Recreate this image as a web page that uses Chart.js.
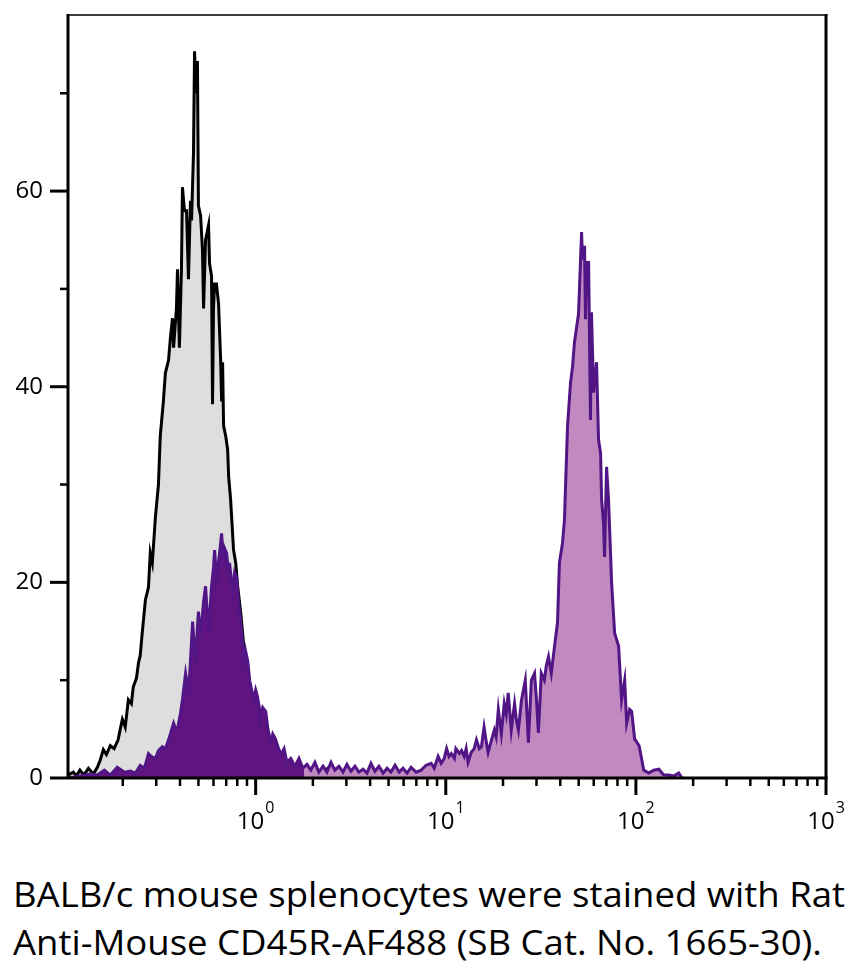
<!DOCTYPE html>
<html>
<head>
<meta charset="utf-8">
<style>
html, body { margin: 0; padding: 0; background: #fff; }
#wrap { position: relative; width: 858px; height: 968px; overflow: hidden; background: #fff; }
#c { position: absolute; left: 0; top: 0; }
.cap { position: absolute; left: 13px; font-family: "Open Sans", sans-serif; font-size: 35px; line-height: 1; white-space: nowrap; color: #000; transform-origin: 0 0; }
</style>
<script src="https://cdn.jsdelivr.net/npm/chart.js@4.4.0/dist/chart.umd.min.js"></script>
</head>
<body>
<div id="wrap">
  <canvas id="c" width="858" height="850"></canvas>
  <div class="cap" id="cap1" style="top:876px"></div>
  <div class="cap" id="cap2" style="top:924px"></div>
</div>
<script>
// ---- data ----
const ctrlIntensity = [0.103,0.110,0.114,0.119,0.125,0.132,0.140,0.147,0.152,0.158,
  0.164,0.172,0.180,0.189,0.194,0.199,0.206,0.214,0.222,0.227,
  0.236,0.242,0.247,0.253,0.263,0.273,0.279,0.286,0.297,0.308,
  0.315,0.327,0.335,0.348,0.356,0.365,0.370,0.383,0.388,0.397,
  0.407,0.412,0.422,0.433,0.443,0.454,0.460,0.471,0.477,0.486,
  0.494,0.500,0.513,0.525,0.532,0.545,0.565,0.572,0.586,0.593,
  0.600,0.608,0.622,0.638,0.654,0.662,0.670,0.678,0.695,0.712,
  0.721,0.738,0.765,0.785,0.804,0.833,0.854,0.885,0.918,0.941,
  0.976,1.01,1.06,1.13,1.20,1.27,1.36,1.46,1.61,1.73,
  1.95,2.26,2.43,2.61,3.17,4.04,5.82,12.1];
const ctrlCount = [0.3,0.6,0.2,0.8,0.3,1.0,0.4,1.1,1.8,2.9,
  2.4,3.3,3.0,3.9,5.0,6.0,5.2,8.0,7.6,9.3,
  10.2,11.8,12.5,14.8,18.2,19.5,23.0,22.0,26.7,30.0,
  35.0,38.5,41.4,42.7,45.0,47.0,44.0,48.0,52.0,44.0,
  52.0,60.4,58.0,58.0,51.0,59.0,57.0,64.0,74.3,70.0,
  73.3,58.5,57.5,54.0,48.0,55.0,56.5,52.6,51.3,38.2,
  48.0,50.5,50.5,48.5,42.8,38.5,42.5,36.0,35.0,33.6,
  30.8,28.5,23.3,22.0,19.6,17.0,14.8,11.4,9.0,7.5,
  6.0,4.5,3.5,2.5,2.0,1.6,1.6,1.0,0.8,0.6,
  0.5,0.6,1.1,0.4,0.3,0.2,0.1,0];

const stainIntensity = [0.103,0.119,0.135,0.147,0.160,0.172,0.187,0.204,0.219,0.233,
  0.247,0.260,0.273,0.283,0.297,0.308,0.323,0.335,0.348,0.356,
  0.370,0.379,0.388,0.402,0.412,0.428,0.438,0.443,0.454,0.466,
  0.477,0.483,0.494,0.500,0.513,0.532,0.545,0.558,0.565,0.579,
  0.586,0.600,0.608,0.622,0.630,0.646,0.662,0.678,0.686,0.703,
  0.721,0.729,0.747,0.756,0.775,0.794,0.813,0.833,0.854,0.864,
  0.885,0.908,0.930,0.941,0.964,0.976,1.00,1.02,1.05,1.06,
  1.09,1.13,1.16,1.20,1.23,1.27,1.32,1.36,1.41,1.46,
  1.53,1.61,1.69,1.77,1.86,1.95,2.05,2.15,2.26,2.37,
  2.49,2.61,2.74,2.88,3.02,3.17,3.33,3.49,3.67,3.85,
  4.04,4.24,4.45,4.68,4.91,5.15,5.41,5.68,5.96,6.26,
  6.57,6.98,7.42,7.88,8.38,8.69,9.12,9.46,9.81,10.1,
  10.4,10.7,11.1,11.3,11.8,12.1,12.5,12.8,13.1,13.6,
  14.1,14.5,15.0,15.4,15.9,16.3,16.7,17.4,18.0,18.4,
  18.9,19.6,20.3,20.8,21.3,22.1,23.0,23.5,24.1,25.0,
  25.6,26.2,27.2,28.2,29.3,30.0,30.7,31.8,33.0,33.8,
  34.7,35.9,37.3,38.7,39.6,41.1,42.1,43.7,45.3,46.4,
  47.5,48.7,49.9,50.5,51.8,52.4,53.7,54.3,55.0,56.4,
  57.7,58.4,59.9,62.1,63.6,65.2,66.0,67.6,68.4,70.1,
  71.8,74.5,77.3,81.1,84.1,87.3,89.4,92.7,95.0,98.5,
  104,110,117,124,132,140,149,158,168,175];
const stainCount = [0,0.2,0.4,0.3,0.8,0.3,1.1,0.6,0.7,0.5,
  1.3,1.0,2.5,2.2,2.0,2.8,3.2,3.0,3.9,4.5,
  5.6,5.0,5.0,6.6,8.0,10.7,9.5,8.5,12.0,16.0,
  13.0,11.7,15.5,17.0,14.5,18.0,19.6,16.5,15.0,18.0,
  19.6,21.5,23.3,20.5,21.3,23.0,25.0,22.0,23.5,23.0,
  21.0,22.0,20.0,19.0,21.0,20.5,18.0,16.0,14.0,11.5,
  13.0,12.0,10.0,9.5,8.5,8.0,9.0,8.4,7.0,6.0,
  7.2,6.8,5.0,3.6,4.5,4.0,3.0,2.4,3.0,1.6,
  2.0,1.2,2.0,1.0,1.4,0.8,1.6,0.6,1.2,0.6,
  1.6,0.8,1.2,0.6,1.4,0.7,1.2,0.6,0.9,0.5,
  1.5,0.7,1.2,0.5,1.0,0.6,1.3,0.6,1.0,0.5,
  1.1,0.6,0.8,1.3,1.5,1.0,2.2,1.5,2.0,3.0,
  2.2,2.5,2.0,3.0,2.5,2.8,2.2,3.0,1.6,2.6,
  3.0,3.9,3.0,3.2,5.2,3.8,2.6,3.9,4.9,4.2,
  7.0,4.5,7.6,6.5,8.7,4.9,7.6,6.0,4.9,7.9,
  9.0,10.0,3.6,10.0,10.7,8.0,4.6,10.7,10.0,11.5,
  12.4,10.7,13.4,15.9,22.0,24.0,26.4,36.0,40.4,42.0,
  44.5,46.0,47.4,50.0,55.8,53.0,54.4,46.9,52.7,52.7,
  36.6,47.6,39.4,42.5,34.6,33.2,28.5,26.0,22.6,31.8,
  28.5,20.0,14.8,13.5,8.0,10.0,5.6,7.0,6.8,4.0,
  3.3,0.8,0.5,0.8,0.9,0.3,0.3,0.2,0.5,0];

const xMajorTicks = [1, 10, 100, 1000];
const xTickExponents = ['0', '1', '2', '3'];
const xMinorDecades = [0.1, 1, 10, 100];
const xMinorMultipliers = [2, 3, 4, 5, 6, 7, 8, 9];
const yMajorTicks = [0, 20, 40, 60];
const yMinorTicks = [10, 30, 50, 70];
const xRange = [0.103, 1000];
const yRange = [0, 78];
const darkFillLimit = 1.8;
const captionLines = [
  'BALB/c mouse splenocytes were stained with Rat',
  'Anti-Mouse CD45R-AF488 (SB Cat. No. 1665-30).'
];

// ---- styles ----
const FONT = '"Open Sans", sans-serif';
const ctrlFill = '#dedede';
const ctrlLine = '#000000';
const stainLine = '#521585';
const darkFill = '#5f1480';
const mauveFill = '#c08ac0';

function toPoints(xs, ys) { return xs.map((x, i) => ({ x: x, y: ys[i] })); }

function stainFill(context) {
  const chart = context.chart;
  const area = chart.chartArea;
  if (!area || !chart.scales.x) return mauveFill;
  const sx = chart.scales.x.getPixelForValue(darkFillLimit);
  const f = Math.min(Math.max((sx - area.left) / (area.right - area.left), 0), 1);
  const g = chart.ctx.createLinearGradient(area.left, 0, area.right, 0);
  g.addColorStop(0, darkFill);
  g.addColorStop(f, darkFill);
  g.addColorStop(f, mauveFill);
  g.addColorStop(1, mauveFill);
  return g;
}

function seg(ctx, x1, y1, x2, y2, w, color) {
  ctx.lineWidth = w;
  ctx.strokeStyle = color;
  ctx.beginPath();
  ctx.moveTo(x1, y1);
  ctx.lineTo(x2, y2);
  ctx.stroke();
}

const axesPlugin = {
  id: 'flowAxes',
  afterDraw(chart) {
    const { ctx, chartArea: a, scales } = chart;
    const xs = scales.x, ys = scales.y;
    ctx.save();
    ctx.lineCap = 'butt';
    // frame
    seg(ctx, a.left, a.top, a.right + 1.5, a.top, 2.2, '#3c3c3c');
    seg(ctx, a.right, a.top - 1, a.right, a.bottom, 3, '#000');
    seg(ctx, a.left, a.top - 1, a.left, a.bottom, 3, '#000');
    seg(ctx, a.left, a.bottom, a.right + 1.5, a.bottom, 3, '#000');
    // y ticks
    yMajorTicks.forEach(v => {
      const py = ys.getPixelForValue(v);
      seg(ctx, a.left - 18, py, a.left, py, 3, '#000');
    });
    yMinorTicks.forEach(v => {
      const py = ys.getPixelForValue(v);
      seg(ctx, a.left - 8, py, a.left, py, 2.5, '#000');
    });
    // x ticks
    xMinorDecades.forEach(d => {
      xMinorMultipliers.forEach(m => {
        const v = d * m;
        if (v < xRange[0] || v > xRange[1]) return;
        const px = xs.getPixelForValue(v);
        seg(ctx, px, a.bottom, px, a.bottom + 8, 2.5, '#000');
      });
    });
    xMajorTicks.forEach((v, i) => {
      const px = xs.getPixelForValue(v);
      seg(ctx, px, a.bottom, px, a.bottom + 17, 3, '#000');
      // label 10^k
      ctx.fillStyle = '#000';
      ctx.textBaseline = 'alphabetic';
      ctx.textAlign = 'left';
      ctx.font = '24px ' + FONT;
      const w1 = ctx.measureText('10').width;
      ctx.font = '16px ' + FONT;
      const w2 = ctx.measureText(xTickExponents[i]).width;
      const start = px - (w1 + 1 + w2) / 2;
      ctx.font = '24px ' + FONT;
      ctx.fillText('10', start, a.bottom + 51);
      ctx.font = '16px ' + FONT;
      ctx.fillText(xTickExponents[i], start + w1 + 1, a.bottom + 35);
    });
    ctx.restore();
  }
};

const chart = new Chart(document.getElementById('c'), {
  type: 'line',
  data: {
    datasets: [
      {
        label: 'CD45R-AF488',
        data: toPoints(stainIntensity, stainCount),
        borderColor: stainLine,
        borderWidth: 3,
        backgroundColor: stainFill,
        fill: 'origin',
        pointRadius: 0,
        tension: 0
      },
      {
        label: 'Control',
        data: toPoints(ctrlIntensity, ctrlCount),
        borderColor: ctrlLine,
        borderWidth: 3,
        backgroundColor: ctrlFill,
        fill: 'origin',
        pointRadius: 0,
        tension: 0
      }
    ]
  },
  options: {
    responsive: false,
    animation: false,
    devicePixelRatio: 1,
    layout: { padding: { top: 15, right: 32, left: 0, bottom: 0 } },
    plugins: { legend: { display: false }, tooltip: { enabled: false } },
    scales: {
      x: {
        type: 'logarithmic',
        min: xRange[0],
        max: xRange[1],
        grid: { display: false, drawTicks: false },
        border: { display: false },
        ticks: { display: false },
        afterFit(scale) { scale.height = 72; scale.paddingLeft = 0; scale.paddingRight = 0; }
      },
      y: {
        type: 'linear',
        min: yRange[0],
        max: yRange[1],
        grid: { display: false, drawTicks: false },
        border: { display: false },
        ticks: {
          stepSize: 20,
          includeBounds: false,
          padding: 25,
          color: '#000',
          font: { family: FONT, size: 24 },
          callback: v => (yMajorTicks.includes(v) ? String(v) : '')
        },
        afterFit(scale) { scale.width = 68; scale.paddingTop = 0; scale.paddingBottom = 0; }
      }
    }
  },
  plugins: [axesPlugin]
});

// caption
const cap1 = document.getElementById('cap1');
const cap2 = document.getElementById('cap2');
cap1.textContent = captionLines[0];
cap2.textContent = captionLines[1];
function fitCaption() {
  cap1.style.transform = '';
  cap2.style.transform = '';
  const w = cap1.getBoundingClientRect().width;
  const s = 832 / w;
  cap1.style.transform = 'scaleX(' + s + ')';
  cap2.style.transform = 'scaleX(' + s + ')';
}
fitCaption();
if (document.fonts && document.fonts.ready) document.fonts.ready.then(() => { fitCaption(); chart.update(); });
</script>
</body>
</html>
